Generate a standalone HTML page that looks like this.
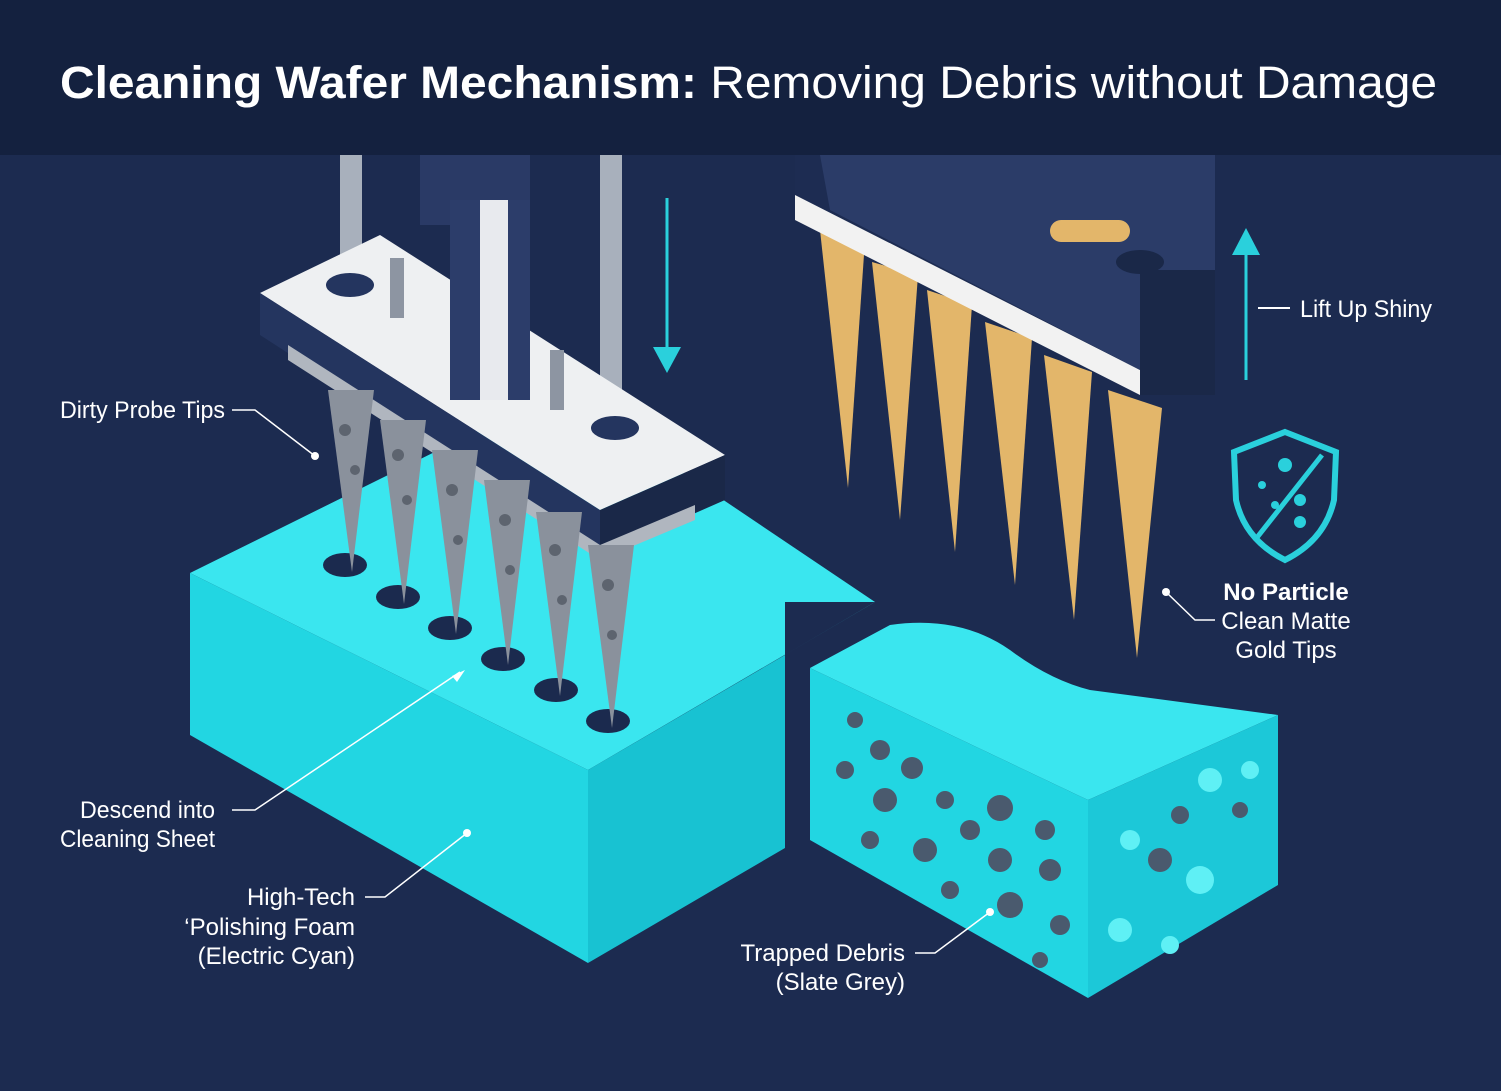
<!DOCTYPE html>
<html><head><meta charset="utf-8"><style>
body{margin:0;background:#1b2a4e;}
svg{display:block}
text{font-family:"Liberation Sans",sans-serif;fill:#fff}
</style></head><body>
<svg width="1501" height="1091" viewBox="0 0 1501 1091" xmlns="http://www.w3.org/2000/svg">
<rect width="1501" height="1091" fill="#1c2b50"/>
<rect width="1501" height="155" fill="#14213f"/>
<text x="60" y="98" font-size="45" textLength="1377" lengthAdjust="spacingAndGlyphs"><tspan font-weight="bold">Cleaning Wafer Mechanism:</tspan> Removing Debris without Damage</text>

<!-- left foam block -->
<polygon points="190,573 560,390 875,602 588,770" fill="#3ae6ef"/>
<polygon points="190,573 588,770 588,963 190,735" fill="#22d6e2"/>
<polygon points="588,770 785,655 785,848 588,963" fill="#18c2d2"/>
<polygon points="785,655 875,602 785,602" fill="#1c2b50"/>
<g fill="#1b2a4e">
<ellipse cx="345" cy="565" rx="22" ry="12"/><ellipse cx="398" cy="597" rx="22" ry="12"/>
<ellipse cx="450" cy="628" rx="22" ry="12"/><ellipse cx="503" cy="659" rx="22" ry="12"/>
<ellipse cx="556" cy="690" rx="22" ry="12"/><ellipse cx="608" cy="721" rx="22" ry="12"/>
</g>

<!-- left probe head -->
<rect x="340" y="155" width="22" height="130" fill="#a8b0bc"/>
<rect x="600" y="155" width="22" height="280" fill="#a8b0bc"/>
<rect x="420" y="155" width="110" height="70" fill="#2a3a66"/>
<polygon points="260,293 380,235 725,455 600,510" fill="#eef0f2"/>
<polygon points="260,293 600,510 600,555 260,335" fill="#24355f"/>
<polygon points="600,510 725,455 725,500 600,555" fill="#1a2848"/>
<polygon points="288,345 600,545 695,505 695,520 600,560 288,360" fill="#b0b6bf"/>
<rect x="450" y="200" width="80" height="200" fill="#2c3d6a"/>
<rect x="480" y="200" width="28" height="200" fill="#e8eaee"/>
<ellipse cx="350" cy="285" rx="24" ry="12" fill="#24355f"/>
<ellipse cx="615" cy="428" rx="24" ry="12" fill="#24355f"/>
<rect x="390" y="258" width="14" height="60" fill="#8d95a2"/>
<rect x="550" y="350" width="14" height="60" fill="#8d95a2"/>
<g fill="#8a919c">
<polygon points="328,390 374,390 352,572"/><polygon points="380,420 426,420 404,604"/>
<polygon points="432,450 478,450 456,634"/><polygon points="484,480 530,480 508,665"/>
<polygon points="536,512 582,512 560,696"/><polygon points="588,545 634,545 612,728"/>
</g>
<g fill="#5d646f">
<circle cx="345" cy="430" r="6"/><circle cx="355" cy="470" r="5"/><circle cx="398" cy="455" r="6"/><circle cx="407" cy="500" r="5"/>
<circle cx="452" cy="490" r="6"/><circle cx="458" cy="540" r="5"/><circle cx="505" cy="520" r="6"/><circle cx="510" cy="570" r="5"/>
<circle cx="555" cy="550" r="6"/><circle cx="562" cy="600" r="5"/><circle cx="608" cy="585" r="6"/><circle cx="612" cy="635" r="5"/>
</g>
<!-- down arrow -->
<line x1="667" y1="198" x2="667" y2="350" stroke="#2ad0dc" stroke-width="3"/>
<polygon points="653,347 681,347 667,373" fill="#2ad0dc"/>

<!-- right gold probe -->
<rect x="940" y="155" width="90" height="45" fill="#e3b66a"/>
<rect x="1130" y="155" width="75" height="100" fill="#e3b66a"/>
<g fill="#e3b66a">
<polygon points="820,230 865,240 848,488"/><polygon points="872,262 918,275 900,520"/>
<polygon points="927,290 972,305 955,552"/><polygon points="985,322 1032,338 1015,585"/>
<polygon points="1044,355 1092,372 1074,620"/><polygon points="1108,390 1162,408 1137,658"/>
</g>
<polygon points="795,155 1215,155 1215,395 795,220" fill="#1d2c52"/>
<polygon points="795,195 1140,370 1140,395 795,220" fill="#f2f2f2"/>
<polygon points="820,155 1215,155 1215,300 1140,370 830,210" fill="#2b3c68"/>
<rect x="1140" y="270" width="75" height="125" fill="#1a2848"/>
<rect x="1050" y="220" width="80" height="22" rx="11" fill="#e3b66a"/>
<ellipse cx="1140" cy="262" rx="24" ry="12" fill="#1a2848"/>
<line x1="1246" y1="250" x2="1246" y2="380" stroke="#2ad0dc" stroke-width="3"/>
<polygon points="1232,255 1260,255 1246,228" fill="#2ad0dc"/>
<line x1="1258" y1="308" x2="1290" y2="308" stroke="#fff" stroke-width="2"/>
<text x="1300" y="317" font-size="24" textLength="132" lengthAdjust="spacingAndGlyphs">Lift Up Shiny</text>

<!-- shield -->
<path d="M1285,432 L1336,452 L1334,500 Q1325,540 1285,560 Q1245,540 1236,500 L1234,452 Z" fill="none" stroke="#2ad0dc" stroke-width="6"/>
<line x1="1255" y1="540" x2="1322" y2="455" stroke="#2ad0dc" stroke-width="5"/>
<g fill="#2ad0dc"><circle cx="1285" cy="465" r="7"/><circle cx="1262" cy="485" r="4"/><circle cx="1300" cy="500" r="6"/><circle cx="1275" cy="505" r="4"/><circle cx="1300" cy="522" r="6"/></g>

<!-- right foam block -->
<path d="M810,668 L890,625 Q960,615 1010,650 Q1050,680 1090,690 L1278,715 L1088,800 Z" fill="#3ae6ef"/>
<polygon points="810,668 1088,800 1088,998 810,840" fill="#22d6e2"/>
<polygon points="1088,800 1278,715 1278,885 1088,998" fill="#1cc8d8"/>
<g fill="#4a5a6e">
<circle cx="855" cy="720" r="8"/><circle cx="880" cy="750" r="10"/><circle cx="912" cy="768" r="11"/><circle cx="845" cy="770" r="9"/>
<circle cx="885" cy="800" r="12"/><circle cx="945" cy="800" r="9"/><circle cx="1000" cy="808" r="13"/><circle cx="1045" cy="830" r="10"/>
<circle cx="870" cy="840" r="9"/><circle cx="925" cy="850" r="12"/><circle cx="970" cy="830" r="10"/><circle cx="1000" cy="860" r="12"/>
<circle cx="1050" cy="870" r="11"/><circle cx="950" cy="890" r="9"/><circle cx="1010" cy="905" r="13"/><circle cx="1060" cy="925" r="10"/>
<circle cx="1040" cy="960" r="8"/><circle cx="1160" cy="860" r="12"/><circle cx="1180" cy="815" r="9"/><circle cx="1240" cy="810" r="8"/>
</g>
<g fill="#5ff0f5"><circle cx="1130" cy="840" r="10"/><circle cx="1210" cy="780" r="12"/><circle cx="1250" cy="770" r="9"/><circle cx="1200" cy="880" r="14"/><circle cx="1120" cy="930" r="12"/><circle cx="1170" cy="945" r="9"/></g>

<!-- labels -->
<g stroke="#fff" stroke-width="1.5" fill="none">
<polyline points="232,410 255,410 315,456"/>
<polyline points="232,810 255,810 460,672"/>
<polyline points="365,897 385,897 467,833"/>
<polyline points="915,953 935,953 990,912"/>
<polyline points="1215,620 1195,620 1166,592"/>
</g>
<g fill="#fff"><circle cx="315" cy="456" r="4"/><circle cx="467" cy="833" r="4"/><circle cx="990" cy="912" r="4"/><circle cx="1166" cy="592" r="4"/></g>
<polygon points="452,676 465,670 457,682" fill="#fff"/>
<text x="60" y="418" font-size="24" textLength="165" lengthAdjust="spacingAndGlyphs">Dirty Probe Tips</text>
<text x="80" y="818" font-size="24" textLength="135" lengthAdjust="spacingAndGlyphs">Descend into</text>
<text x="60" y="847" font-size="24" textLength="155" lengthAdjust="spacingAndGlyphs">Cleaning Sheet</text>
<text x="355" y="905" font-size="24" text-anchor="end">High-Tech</text>
<text x="355" y="935" font-size="24" text-anchor="end">‘Polishing Foam</text>
<text x="355" y="964" font-size="24" text-anchor="end">(Electric Cyan)</text>
<text x="905" y="961" font-size="24" text-anchor="end">Trapped Debris</text>
<text x="905" y="990" font-size="24" text-anchor="end">(Slate Grey)</text>
<text x="1286" y="600" font-size="24" font-weight="bold" text-anchor="middle">No Particle</text>
<text x="1286" y="629" font-size="24" text-anchor="middle">Clean Matte</text>
<text x="1286" y="658" font-size="24" text-anchor="middle">Gold Tips</text>
</svg>
</body></html>
